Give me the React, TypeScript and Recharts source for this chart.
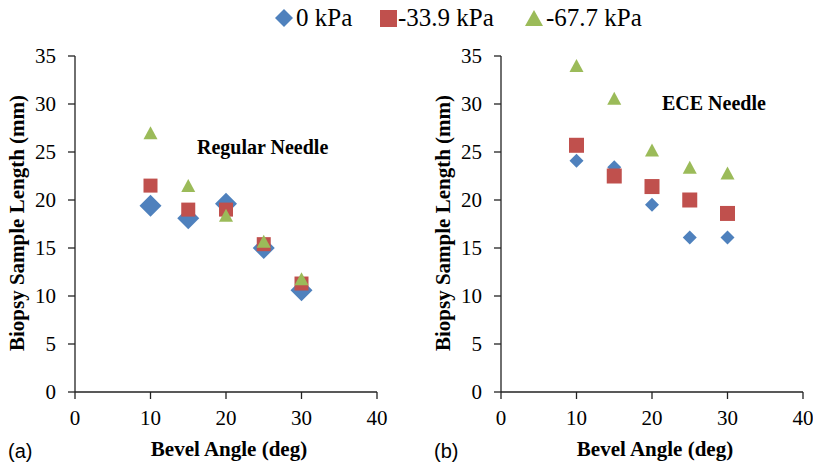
import React from 'react';
import { ScatterChart, Scatter, XAxis, YAxis } from 'recharts';

// bevel angles (deg) and biopsy sample lengths (mm)
const angles = [10, 15, 20, 25, 30];
const regular0 = [19.4, 18.1, 19.6, 15.0, 10.6];
const regular339 = [21.5, 19.0, 19.0, 15.4, 11.3];
const regular677 = [27.0, 21.5, 18.4, 15.7, 11.8];
const ece0 = [24.1, 23.4, 19.5, 16.1, 16.1];
const ece339 = [25.7, 22.5, 21.4, 20.0, 18.6];
const ece677 = [34.0, 30.6, 25.2, 23.4, 22.8];

const xTicks = [0, 10, 20, 30, 40];
const yTicks = [0, 5, 10, 15, 20, 25, 30, 35];
const seriesNames = ['0 kPa', '-33.9 kPa', '-67.7 kPa'];

const BLUE = '#4F81BD';
const RED = '#C0504D';
const GREEN = '#9BBB59';
const SERIF = 'Liberation Serif, Times New Roman, serif';

const toPoints = (ys: number[]) => angles.map((x, i) => ({ x, y: ys[i] }));

const diamond = (r: number) => (props: any) => {
    const { cx, cy } = props;
    return <polygon points={`${cx},${cy - r} ${cx + r},${cy} ${cx},${cy + r} ${cx - r},${cy}`} fill={BLUE} />;
};
const square = (s: number) => (props: any) => {
    const { cx, cy } = props;
    return <rect x={cx - s / 2} y={cy - s / 2} width={s} height={s} fill={RED} />;
};
const triangle = (w: number, h: number) => (props: any) => {
    const { cx, cy } = props;
    return <polygon points={`${cx},${cy - h / 2} ${cx + w / 2},${cy + h / 2} ${cx - w / 2},${cy + h / 2}`} fill={GREEN} />;
};

const tickStyle = { fill: '#000', fontSize: 21, fontFamily: SERIF };
const axisLine = { stroke: '#222', strokeWidth: 1.3 };

type PanelProps = {
    left: number;
    s0: number[];
    s1: number[];
    s2: number[];
    big: boolean;
};

const Panel = ({ left, s0, s1, s2, big }: PanelProps) => (
    <div style={{ position: 'absolute', left, top: 0 }}>
        <ScatterChart width={400} height={466} margin={{ top: 56, right: 23, bottom: 44, left: 15 }}>
            <XAxis
                type="number"
                dataKey="x"
                domain={[0, 40]}
                ticks={xTicks}
                height={30}
                tickSize={7}
                tickMargin={11}
                tick={tickStyle}
                axisLine={axisLine}
                tickLine={axisLine}
            />
            <YAxis
                type="number"
                dataKey="y"
                domain={[0, 35]}
                ticks={yTicks}
                width={60}
                tickSize={7}
                tickMargin={12}
                tick={tickStyle}
                axisLine={axisLine}
                tickLine={axisLine}
            />
            <Scatter name={seriesNames[0]} data={toPoints(s0)} shape={diamond(big ? 11 : 7)} isAnimationActive={false} />
            <Scatter name={seriesNames[1]} data={toPoints(s1)} shape={square(big ? 14 : 15)} isAnimationActive={false} />
            <Scatter name={seriesNames[2]} data={toPoints(s2)} shape={triangle(14, 13)} isAnimationActive={false} />
        </ScatterChart>
    </div>
);

export default function App() {
    return (
        <div style={{ position: 'absolute', left: 0, top: 0, width: 813, height: 466, background: '#fff', overflow: 'hidden' }}>
            <Panel left={0} s0={regular0} s1={regular339} s2={regular677} big />
            <Panel left={426} s0={ece0} s1={ece339} s2={ece677} big={false} />

            {/* titles, legend, panel letters */}
            <svg width={813} height={466} style={{ position: 'absolute', left: 0, top: 0, pointerEvents: 'none' }}>
                <g fontFamily={SERIF} fontSize={21} fontWeight="bold" fill="#000" textAnchor="middle">
                    <text transform="translate(24,223) rotate(-90)">Biopsy Sample Length (mm)</text>
                    <text transform="translate(450,223) rotate(-90)">Biopsy Sample Length (mm)</text>
                    <text x={229} y={456}>Bevel Angle (deg)</text>
                    <text x={655} y={456}>Bevel Angle (deg)</text>
                </g>
                <g fontFamily={SERIF} fontSize={20} fontWeight="bold" fill="#000">
                    <text x={197} y={154}>Regular Needle</text>
                    <text x={662} y={110}>ECE Needle</text>
                </g>
                <g fontFamily="Liberation Sans, Arial, sans-serif" fontSize={20} fill="#000">
                    <text x={8} y={458}>(a)</text>
                    <text x={434} y={458}>(b)</text>
                </g>
                <g fontFamily={SERIF} fontSize={25} fill="#000">
                    <polygon points="284,9 293,18 284,27 275,18" fill={BLUE} />
                    <text x={296} y={26}>{seriesNames[0]}</text>
                    <rect x={380} y={10} width={17} height={17} fill={RED} />
                    <text x={398} y={26}>{seriesNames[1]}</text>
                    <polygon points="534,10 543,26 525,26" fill={GREEN} />
                    <text x={546} y={26}>{seriesNames[2]}</text>
                </g>
            </svg>
        </div>
    );
}
